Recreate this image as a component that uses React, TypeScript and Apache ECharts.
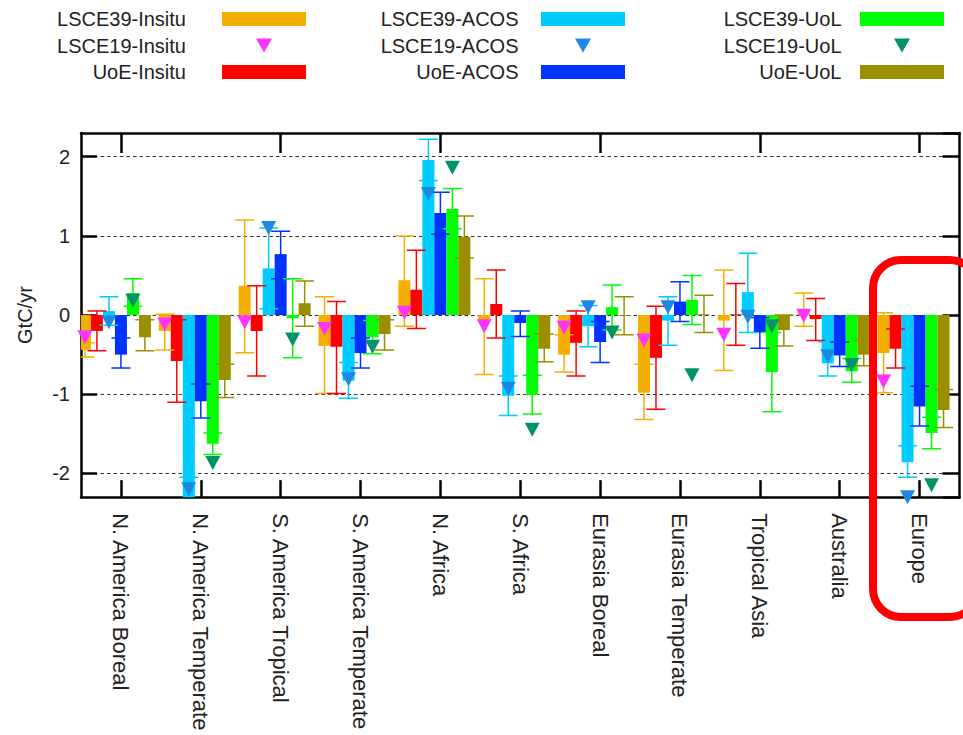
import React, { useEffect, useRef } from 'react';
import * as echarts from 'echarts';

const categories = [
  'N. America Boreal', 'N. America Temperate', 'S. America Tropical', 'S. America Temperate',
  'N. Africa', 'S. Africa', 'Eurasia Boreal', 'Eurasia Temperate', 'Tropical Asia', 'Australia', 'Europe',
];

// Bars (value, error low, error high)
const lsce39Insitu = [-0.44, -0.20, 0.37, -0.39, 0.44, -0.07, -0.50, -0.98, -0.07, 0.05, -0.48];
const lsce39InsituLow = [-0.53, -0.44, -0.475, -0.99, -0.14, -0.75, -0.72, -1.32, -0.70, -0.14, -0.98];
const lsce39InsituHigh = [-0.35, 0.01, 1.20, 0.23, 1.00, 0.46, -0.25, -0.62, 0.57, 0.28, 0.03];

const uoeInsitu = [-0.20, -0.58, -0.20, -0.40, 0.32, 0.14, -0.35, -0.54, 0.01, -0.05, -0.425];
const uoeInsituLow = [-0.45, -1.10, -0.77, -0.99, -0.17, -0.29, -0.77, -1.19, -0.38, -0.32, -0.67];
const uoeInsituHigh = [0.05, -0.06, 0.37, 0.17, 0.82, 0.57, 0.05, 0.11, 0.40, 0.21, -0.175];

const lsce39Acos = [0.05, -2.45, 0.59, -0.83, 1.96, -1.02, -0.14, -0.07, 0.29, -0.61, -1.86];
const lsce39AcosLow = [-0.13, -2.85, 0.08, -1.05, 1.70, -1.27, -0.40, -0.38, -0.22, -0.77, -2.05];
const lsce39AcosHigh = [0.23, -2.05, 1.10, -0.60, 2.22, -0.77, 0.12, 0.23, 0.78, -0.34, -1.65];

const uoeAcos = [-0.50, -1.09, 0.77, -0.48, 1.29, -0.10, -0.34, 0.17, -0.22, -0.51, -1.155];
const uoeAcosLow = [-0.67, -1.30, 0.46, -0.67, 1.02, -0.27, -0.60, -0.08, -0.42, -0.65, -1.40];
const uoeAcosHigh = [-0.29, -0.87, 1.06, -0.29, 1.55, 0.05, -0.08, 0.42, -0.03, -0.34, -0.90];

const lsce39Uol = [0.28, -1.625, -0.04, -0.28, 1.34, -1.01, 0.10, 0.19, -0.72, -0.71, -1.49];
const lsce39UolLow = [0.11, -1.76, -0.54, -0.49, 1.09, -1.25, -0.19, -0.12, -1.22, -0.85, -1.69];
const lsce39UolHigh = [0.46, -1.49, 0.46, -0.07, 1.60, -0.76, 0.38, 0.50, -0.22, -0.55, -1.29];

const uoeUol = [-0.28, -0.82, 0.15, -0.24, 0.99, -0.425, -0.01, 0.01, -0.19, -0.50, -1.20];
const uoeUolLow = [-0.45, -1.04, -0.14, -0.44, 0.72, -0.59, -0.25, -0.22, -0.39, -0.64, -1.42];
const uoeUolHigh = [-0.06, -0.62, 0.43, -0.06, 1.25, -0.24, 0.23, 0.25, 0.00, -0.32, -0.94];

// Triangles (LSCE19)
const lsce19Insitu = [-0.28, -0.12, -0.09, -0.175, 0.03, -0.14, -0.16, -0.32, -0.25, -0.01, -0.84];
const lsce19Acos = [-0.09, -2.20, 1.10, -0.81, 1.53, -0.93, 0.10, 0.10, -0.02, -0.52, -2.30];
const lsce19Uol = [0.18, -1.87, -0.31, -0.40, 1.86, -1.45, -0.22, -0.76, -0.14, -0.63, -2.15];

const FONT = 'Liberation Sans, Arial, Helvetica, sans-serif';
const TEXT = '#222';

const barDefs = [
  { name: 'LSCE39-Insitu', v: lsce39Insitu, lo: lsce39InsituLow, hi: lsce39InsituHigh, color: '#F5AF00' },
  { name: 'UoE-Insitu', v: uoeInsitu, lo: uoeInsituLow, hi: uoeInsituHigh, color: '#FF0000' },
  { name: 'LSCE39-ACOS', v: lsce39Acos, lo: lsce39AcosLow, hi: lsce39AcosHigh, color: '#00CCFF' },
  { name: 'UoE-ACOS', v: uoeAcos, lo: uoeAcosLow, hi: uoeAcosHigh, color: '#0033FF' },
  { name: 'LSCE39-UoL', v: lsce39Uol, lo: lsce39UolLow, hi: lsce39UolHigh, color: '#00FF00' },
  { name: 'UoE-UoL', v: uoeUol, lo: uoeUolLow, hi: uoeUolHigh, color: '#998F00' },
];

const triDefs = [
  { name: 'LSCE19-Insitu', v: lsce19Insitu, color: '#FF33FF', off: -36 },
  { name: 'LSCE19-ACOS', v: lsce19Acos, color: '#1E88E5', off: -12 },
  { name: 'LSCE19-UoL', v: lsce19Uol, color: '#00936A', off: 12 },
];

const BAR_W = 12;
// legend triangle icon: down-pointing triangle centred in an 84x14 box
const TRI_ICON = 'path://M0,0L0,0M84,14L84,14M34,0L50,0L42,14Z';

function buildOption() {
  const series: any[] = [];
  barDefs.forEach((b) => {
    series.push({
      name: b.name,
      type: 'bar',
      data: b.v,
      barWidth: BAR_W,
      barGap: '0%',
      itemStyle: { color: b.color },
      z: 2,
    });
  });
  // spacer series (occupies the 7th slot of each group, as in the original layout)
  series.push({ name: '_pad', type: 'bar', data: [], barWidth: BAR_W, barGap: '0%' });

  barDefs.forEach((b, i) => {
    const off = -36 + BAR_W * i;
    series.push({
      name: b.name + ' err',
      type: 'custom',
      clip: true,
      z: 3,
      encode: { x: 0, y: [1, 2] },
      data: b.lo.map((lo, k) => [k, lo, b.hi[k]]),
      renderItem: (params: any, api: any) => {
        const idx = api.value(0);
        const p1 = api.coord([idx, api.value(1)]);
        const p2 = api.coord([idx, api.value(2)]);
        const x = p1[0] + off;
        const st = { stroke: b.color, lineWidth: 1.5 };
        return {
          type: 'group',
          children: [
            { type: 'line', shape: { x1: x, y1: p1[1], x2: x, y2: p2[1] }, style: st },
            { type: 'line', shape: { x1: x - 9.5, y1: p1[1], x2: x + 9.5, y2: p1[1] }, style: st },
            { type: 'line', shape: { x1: x - 9.5, y1: p2[1], x2: x + 9.5, y2: p2[1] }, style: st },
          ],
        };
      },
    });
  });

  triDefs.forEach((t) => {
    series.push({
      name: t.name,
      type: 'scatter',
      data: t.v.map((v, k) => [k, v]),
      symbol: 'triangle',
      symbolRotate: 180,
      symbolSize: [15, 14],
      symbolOffset: [t.off, 0],
      clip: false,
      itemStyle: { color: t.color, opacity: 1 },
      z: 5,
    });
  });

  const legendBase = {
    orient: 'vertical',
    align: 'right',
    padding: 0,
    itemWidth: 84,
    itemHeight: 14,
    itemGap: 6.5,
    top: 9,
    selectedMode: false,
    symbolRotate: 0,
  };
  const legendCol = (names: string[], right: number, pad: number) => ({
    ...legendBase,
    right,
    textStyle: { fontSize: 20, color: TEXT, fontFamily: FONT, padding: [0, pad, 0, 0] },
    data: names.map((n) => (n.startsWith('LSCE19') ? { name: n, icon: TRI_ICON } : { name: n, icon: 'rect' })),
  });

  const axisLineStyle = { color: '#000', width: 2.5 };

  return {
    animation: false,
    backgroundColor: '#fff',
    textStyle: { fontFamily: FONT },
    legend: [
      legendCol(['LSCE39-Insitu', 'LSCE19-Insitu', 'UoE-Insitu'], 657, 31),
      legendCol(['LSCE39-ACOS', 'LSCE19-ACOS', 'UoE-ACOS'], 338, 17.5),
      legendCol(['LSCE39-UoL', 'LSCE19-UoL', 'UoE-UoL'], 19, 13.5),
    ],
    grid: { left: 81, right: 3.5, top: 133, bottom: 235, containLabel: false },
    xAxis: [
      {
        type: 'category',
        data: categories,
        position: 'bottom',
        boundaryGap: true,
        axisLine: { show: true, onZero: false, lineStyle: axisLineStyle },
        axisTick: { show: true, inside: true, alignWithLabel: true, length: 17, lineStyle: axisLineStyle },
        axisLabel: { rotate: -90, margin: 16, fontSize: 22, color: TEXT, fontFamily: FONT, interval: 0 },
        splitLine: { show: false },
      },
      {
        type: 'category',
        data: categories,
        position: 'top',
        boundaryGap: true,
        axisLine: { show: true, onZero: false, lineStyle: axisLineStyle },
        axisTick: { show: true, inside: true, alignWithLabel: true, length: 20, lineStyle: axisLineStyle },
        axisLabel: { show: false },
        splitLine: { show: false },
      },
    ],
    yAxis: [
      {
        type: 'value',
        min: -2.3,
        max: 2.3,
        splitNumber: 5,
        position: 'left',
        name: 'GtC/yr',
        nameLocation: 'middle',
        nameRotate: 90,
        nameGap: 46,
        nameTextStyle: { fontSize: 20, color: TEXT, fontFamily: FONT },
        axisLine: { show: true, onZero: false, lineStyle: axisLineStyle },
        axisTick: { show: true, inside: true, length: 16, lineStyle: axisLineStyle },
        axisLabel: { fontSize: 20, color: TEXT, fontFamily: FONT, margin: 11, showMinLabel: false, showMaxLabel: false },
        splitLine: { show: true, lineStyle: { type: [3.5, 3], color: '#333', width: 1 } },
      },
      {
        type: 'value',
        min: -2.3,
        max: 2.3,
        splitNumber: 5,
        position: 'right',
        axisLine: { show: true, onZero: false, lineStyle: axisLineStyle },
        axisTick: { show: true, inside: true, length: 17, lineStyle: axisLineStyle },
        axisLabel: { show: false },
        splitLine: { show: false },
      },
    ],
    graphic: [
      {
        type: 'rect',
        z: 100,
        silent: true,
        shape: { x: 873, y: 260, width: 105, height: 357, r: 28 },
        style: { fill: 'transparent', stroke: '#FF0000', lineWidth: 8 },
      },
    ],
    series,
  };
}

export default function App() {
  const ref = useRef<HTMLDivElement>(null);
  useEffect(() => {
    if (!ref.current) return;
    const chart = echarts.init(ref.current, undefined, { renderer: 'svg' });
    chart.setOption(buildOption() as any);
    return () => chart.dispose();
  }, []);
  return (
    <div
      ref={ref}
      style={{ position: 'absolute', left: 0, top: 0, width: 963, height: 735, background: '#fff' }}
    />
  );
}
